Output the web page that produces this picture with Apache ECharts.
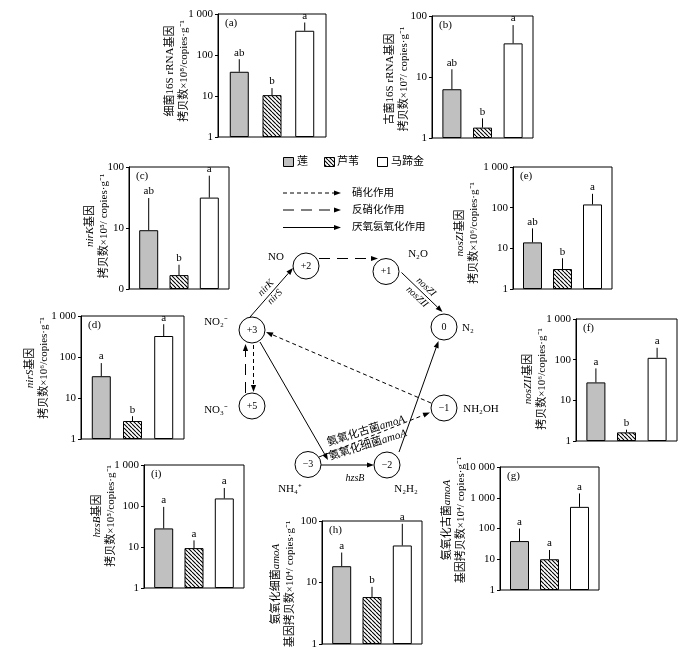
<!DOCTYPE html>
<html><head><meta charset="utf-8">
<script src="https://cdn.jsdelivr.net/npm/echarts@6/dist/echarts.min.js"></script>
<style>html,body{margin:0;padding:0;background:#fff}#c{width:700px;height:654px}</style>
</head><body><div id="c"></div><script>
// ---------------- data ----------------
const categories = ['莲', '芦苇', '马蹄金'];
// (a) 细菌16S rRNA
const bac16S = [39, 10.5, 390];
const bac16SErr = [79, 15.6, 620];
const bac16SSig = ['ab', 'b', 'a'];
// (b) 古菌16S rRNA
const arc16S = [6.3, 1.48, 35.6];
const arc16SErr = [13.4, 2.1, 71];
const arc16SSig = ['ab', 'b', 'a'];
// (c) nirK
const nirK = [9.2, 1.69, 31.5];
const nirKErr = [31, 2.5, 72];
const nirKSig = ['ab', 'b', 'a'];
// (e) nosZI
const nosZI = [14, 3.1, 120];
const nosZIErr = [31, 5.7, 219];
const nosZISig = ['ab', 'b', 'a'];
// (d) nirS
const nirS = [34, 2.75, 325];
const nirSErr = [71, 3.6, 630];
const nirSSig = ['a', 'b', 'a'];
// (f) nosZII
const nosZII = [27.6, 1.63, 111];
const nosZIIErr = [61, 1.9, 196];
const nosZIISig = ['a', 'b', 'a'];
// (i) hzsB
const hzsB = [28.4, 9.4, 153];
const hzsBErr = [95, 14.5, 275];
const hzsBSig = ['a', 'a', 'a'];
// (h) 氨氧化细菌 amoA
const aobAmoA = [18.4, 5.8, 40];
const aobAmoAErr = [30.7, 8.5, 90];
const aobAmoASig = ['a', 'b', 'a'];
// (g) 氨氧化古菌 amoA
const aoaAmoA = [39, 10, 505];
const aoaAmoAErr = [100, 20, 1380];
const aoaAmoASig = ['a', 'a', 'a'];
// tick labels (by decade index)
const ticks1000 = ['1', '10', '100', '1 000'];
const ticks100 = ['1', '10', '100'];
const ticks100c = ['0', '10', '100'];
const ticks10000 = ['1', '10', '100', '1 000', '10 000'];

// ---------------- style / layout ----------------
const FONT = '"Liberation Serif","Noto Sans CJK SC",serif';
function hatchCanvas(s) {
  const c = document.createElement('canvas'); c.width = c.height = s;
  const g = c.getContext('2d'); g.fillStyle = '#fff'; g.fillRect(0, 0, s, s);
  g.strokeStyle = '#000'; g.lineWidth = 1.1; g.beginPath();
  for (const o of [-s, 0, s]) { g.moveTo(o, 0); g.lineTo(o + s, s); }
  g.stroke(); return c;
}
const HATCH = { image: hatchCanvas(4), repeat: 'repeat' };
const FILLS = ['#c0c0c0', HATCH, '#ffffff'];

// box: [left, top, width, height], lab: [x, y] centre of the rotated axis title
const panels = [
  { tag: '(a)', mean: bac16S, err: bac16SErr, sig: bac16SSig, max: 1000, ticks: ticks1000,
    name: '{t|细菌16S rRNA基因}\n{t|拷贝数×10⁸/copies·g⁻¹}', box: [218, 14, 108, 123], lab: [177, 71] },
  { tag: '(b)', mean: arc16S, err: arc16SErr, sig: arc16SSig, max: 100, ticks: ticks100,
    name: '{t|古菌16S rRNA基因}\n{t|拷贝数×10⁷/ copies·g⁻¹}', box: [432, 16, 101, 122], lab: [397, 79] },
  { tag: '(c)', mean: nirK, err: nirKErr, sig: nirKSig, max: 100, ticks: ticks100c,
    name: '{i|nirK}{t|基因}\n{t|拷贝数×10⁵/ copies·g⁻¹}', box: [129, 167, 100, 122], lab: [97, 226] },
  { tag: '(e)', mean: nosZI, err: nosZIErr, sig: nosZISig, max: 1000, ticks: ticks1000,
    name: '{i|nosZI}{t|基因}\n{t|拷贝数×10⁶/copies·g⁻¹}', box: [513, 167, 99, 122], lab: [467.5, 233] },
  { tag: '(d)', mean: nirS, err: nirSErr, sig: nirSSig, max: 1000, ticks: ticks1000,
    name: '{i|nirS}{t|基因}\n{t|拷贝数×10⁶/copies·g⁻¹}', box: [81, 316, 103, 123], lab: [37, 368] },
  { tag: '(f)', mean: nosZII, err: nosZIIErr, sig: nosZIISig, max: 1000, ticks: ticks1000,
    name: '{i|nosZII}{t|基因}\n{t|拷贝数×10⁶/copies·g⁻¹}', box: [576, 319, 101, 122], lab: [535.5, 379] },
  { tag: '(i)', mean: hzsB, err: hzsBErr, sig: hzsBSig, max: 1000, ticks: ticks1000,
    name: '{i|hzsB}{t|基因}\n{t|拷贝数×10⁵/copies·g⁻¹}', box: [144, 465, 100, 123], lab: [104, 516] },
  { tag: '(h)', mean: aobAmoA, err: aobAmoAErr, sig: aobAmoASig, max: 100, ticks: ticks100,
    name: '{t|氨氧化细菌}{i|amoA}\n{t|基因拷贝数×10⁴/ copies·g⁻¹}', box: [322, 521, 100, 123], lab: [283, 584] },
  { tag: '(g)', mean: aoaAmoA, err: aoaAmoAErr, sig: aoaAmoASig, max: 10000, ticks: ticks10000,
    name: '{t|氨氧化古菌}{i|amoA}\n{t|基因拷贝数×10⁴/ copies·g⁻¹}', box: [500, 467, 99, 123], lab: [454, 520] }
];

const grids = [], xAxes = [], yAxes = [], series = [];
const els = [];
function txt(x, y, text, o) {
  o = o || {};
  const st = { text: text, fontSize: o.size || 11, fontFamily: FONT, fontStyle: o.italic ? 'italic' : 'normal',
    fontWeight: o.weight || 'normal', fill: '#000', align: o.align || 'center', verticalAlign: o.va || 'middle',
    textAlign: o.align || 'center', textVerticalAlign: o.va || 'middle' };
  if (o.lh) st.lineHeight = o.lh;
  if (o.rich) st.rich = o.rich;
  els.push({ type: 'text', x: x, y: y, rotation: o.rot || 0, z: 10, silent: true, style: st });
}
const nameRich = {
  t: { fontSize: 11, fontFamily: FONT, color: '#000', lineHeight: 14 },
  i: { fontSize: 11, fontFamily: FONT, fontStyle: 'italic', color: '#000', lineHeight: 14 }
};

panels.forEach((p, k) => {
  const [l, t, w, h] = p.box;
  grids.push({ left: l, top: t, width: w, height: h, show: true, borderColor: '#000', borderWidth: 1,
    containLabel: false, outerBoundsMode: 'none' });
  xAxes.push({ type: 'value', gridIndex: k, min: 0.35, max: 3.65, show: false });
  yAxes.push({ type: 'log', logBase: 10, gridIndex: k, min: 1, max: p.max, position: 'left',
    axisLine: { show: true, lineStyle: { color: '#000', width: 1 } },
    axisTick: { show: true, inside: false, length: 3, lineStyle: { color: '#000', width: 1 } },
    minorTick: { show: false }, splitLine: { show: false },
    axisLabel: { margin: 5, fontSize: 11, fontFamily: FONT, color: '#000',
      formatter: v => p.ticks[Math.round(Math.log10(v))] } });
  series.push({ type: 'bar', xAxisIndex: k, yAxisIndex: k, barWidth: 19, silent: true, animation: false,
    itemStyle: { borderColor: '#000', borderWidth: 1 },
    data: p.mean.map((v, i) => ({ name: categories[i], value: [i + 1, v], itemStyle: { color: FILLS[i] } })) });
  series.push({ type: 'custom', xAxisIndex: k, yAxisIndex: k, silent: true, animation: false, z: 5, clip: false,
    data: p.mean.map((v, i) => [i + 1, v, p.err[i]]),
    renderItem: (params, api) => {
      const x = api.value(0);
      const a = api.coord([x, api.value(1)]);
      const b = api.coord([x, api.value(2)]);
      return { type: 'group', children: [
        { type: 'line', shape: { x1: a[0], y1: a[1], x2: b[0], y2: b[1] }, style: { stroke: '#000', lineWidth: 1 } },
        { type: 'text', x: b[0], y: b[1] - 1, style: { text: p.sig[params.dataIndex], fontSize: 11, fontFamily: FONT,
          fill: '#000', align: 'center', verticalAlign: 'bottom', textAlign: 'center', textVerticalAlign: 'bottom' } }
      ] };
    } });
  txt(l + 7, t + 9, p.tag, { align: 'left', size: 11 });
  txt(p.lab[0], p.lab[1], p.name, { rot: Math.PI / 2, rich: nameRich, lh: 14 });
});

// ---------------- legend ----------------
function rect(x, y, w, h, fill) {
  els.push({ type: 'rect', shape: { x: x, y: y, width: w, height: h }, silent: true,
    style: { fill: fill, stroke: '#000', lineWidth: 1 } });
}
rect(283.5, 157.5, 10, 9, FILLS[0]); txt(297, 162, categories[0], { align: 'left', size: 11 });
rect(324.5, 157.5, 10, 9, FILLS[1]); txt(337, 162, categories[1], { align: 'left', size: 11 });
rect(377.5, 157.5, 10, 9, FILLS[2]); txt(391, 162, categories[2], { align: 'left', size: 11 });

function arrow(x1, y1, x2, y2, dash, hl) {
  const ang = Math.atan2(y2 - y1, x2 - x1), L = hl || 7, W = 2.6;
  const bx = x2 - L * Math.cos(ang), by = y2 - L * Math.sin(ang);
  els.push({ type: 'line', silent: true, shape: { x1: x1, y1: y1, x2: bx, y2: by },
    style: { stroke: '#000', lineWidth: 1, lineDash: dash || null } });
  els.push({ type: 'polygon', silent: true, shape: { points: [[x2, y2],
    [bx - W * Math.sin(ang), by + W * Math.cos(ang)], [bx + W * Math.sin(ang), by - W * Math.cos(ang)]] },
    style: { fill: '#000' } });
}
const SHORT = [4, 3], LONG = [11, 7];
arrow(283, 193, 341, 193, SHORT); txt(352, 193, '硝化作用', { align: 'left', size: 10.5 });
arrow(283, 210, 341, 210, LONG); txt(352, 210, '反硝化作用', { align: 'left', size: 10.5 });
arrow(283, 227.5, 341, 227.5, null); txt(352, 227.5, '厌氧氨氧化作用', { align: 'left', size: 10.5 });

// ---------------- nitrogen cycle diagram ----------------
arrow(250, 317, 293, 268, null);               // +3 -> +2
arrow(319, 258.5, 378, 258.5, LONG);           // +2 -> +1
arrow(401.5, 272.5, 442.5, 312, null);         // +1 -> 0
arrow(253.5, 345, 253.5, 392, SHORT);          // +3 -> +5
arrow(245.5, 393, 245.5, 344, LONG);           // +5 -> +3
arrow(431, 403, 266, 332, SHORT);              // -1 -> +3
arrow(319, 457, 430, 412.5, SHORT);            // -3 -> -1
arrow(260, 342, 328, 460, null);               // +3 -> anammox
arrow(321, 465, 374, 465, null);               // -3 -> -2
arrow(399, 452, 438.5, 341, null);             // -2 -> 0

const nodes = [[306, 266, '+2'], [386, 271.5, '+1'], [444, 327, '0'], [252, 330, '+3'], [252, 406, '+5'],
  [444, 408, '−1'], [308, 464.5, '−3'], [387, 465, '−2']];
nodes.forEach(n => {
  els.push({ type: 'circle', silent: true, shape: { cx: n[0], cy: n[1], r: 13 },
    style: { fill: '#fff', stroke: '#000', lineWidth: 1 } });
  txt(n[0], n[1], n[2], { size: 10 });
});
txt(276, 257, 'NO', { size: 11 });
txt(418, 254, 'N₂O', { size: 11 });
txt(468, 328, 'N₂', { size: 11 });
txt(216, 322, 'NO₂⁻', { size: 11 });
txt(216, 410, 'NO₃⁻', { size: 11 });
txt(481, 409, 'NH₂OH', { size: 11 });
txt(290, 489, 'NH₄⁺', { size: 11 });
txt(406, 489, 'N₂H₂', { size: 11 });
// enzyme labels
txt(266, 288, 'nirK', { size: 10, italic: true, rot: 0.8 });
txt(275, 297, 'nirS', { size: 10, italic: true, rot: 0.8 });
txt(426, 287, 'nosZI', { size: 10, italic: true, rot: -0.76 });
txt(417, 297, 'nosZII', { size: 10, italic: true, rot: -0.76 });
txt(355, 478, 'hzsB', { size: 10, italic: true });
const amoRich = { t: { fontSize: 11, fontFamily: FONT, color: '#000' },
  i: { fontSize: 11, fontFamily: FONT, fontStyle: 'italic', color: '#000' } };
txt(366, 431, '{t|氨氧化古菌}{i|amoA}', { rot: 0.3, rich: amoRich });
txt(368, 445, '{t|氨氧化细菌}{i|amoA}', { rot: 0.3, rich: amoRich });

const chart = echarts.init(document.getElementById('c'), null, { renderer: 'canvas' });
chart.setOption({
  backgroundColor: '#fff', animation: false,
  grid: grids, xAxis: xAxes, yAxis: yAxes, series: series, graphic: { elements: els }
});
</script></body></html>
